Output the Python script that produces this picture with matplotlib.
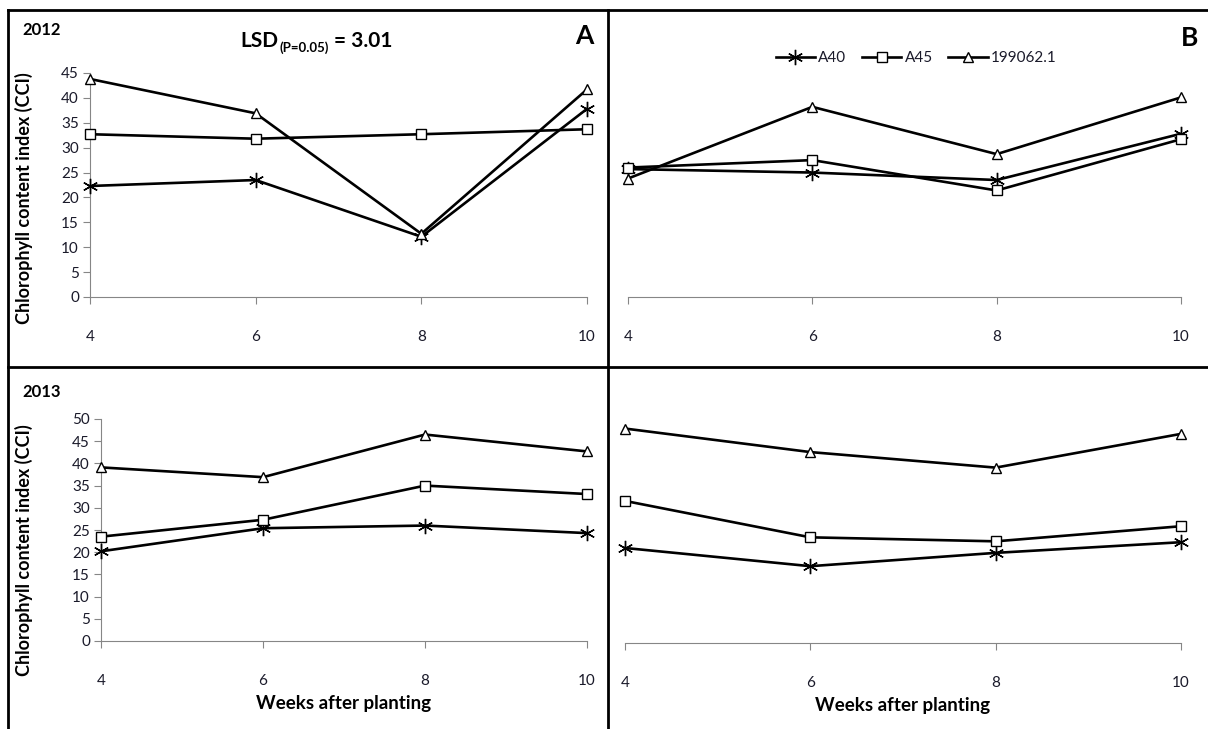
import matplotlib
matplotlib.use('Agg')
import matplotlib.pyplot as plt
from matplotlib.lines import Line2D

plt.rcParams['font.family'] = ['Lato', 'DejaVu Sans']

# Data
weeks = [4, 6, 8, 10]
genotypes = ['A40', 'A45', '199062.1']

a_2012 = [22.3, 23.5, 12.1, 37.8]
a45_2012 = [32.7, 31.8, 32.7, 33.7]
g199_2012 = [43.8, 36.9, 12.7, 41.7]

a_2012b = [25.7, 25.0, 23.5, 32.8]
a45_2012b = [26.0, 27.5, 21.4, 31.7]
g199_2012b = [23.8, 38.2, 28.7, 40.1]

a_2013 = [20.2, 25.4, 26.0, 24.3]
a45_2013 = [23.5, 27.3, 35.0, 33.1]
g199_2013 = [39.1, 36.9, 46.5, 42.7]

a_2013b = [21.4, 17.3, 20.3, 22.7]
a45_2013b = [32.0, 23.8, 22.9, 26.3]
g199_2013b = [48.3, 43.0, 39.5, 47.1]

y_ticks_2012 = list(range(0, 50, 5))
y_ticks_2013 = list(range(0, 55, 5))

W, H = 1208, 729
fig = plt.figure(figsize=(W / 100, H / 100), dpi=100)

def px_axes(x0, x1, ytop, ybot):
    return fig.add_axes([x0 / W, 1 - ybot / H, (x1 - x0) / W, (ybot - ytop) / H])

styles = [
    dict(marker=(6, 2, 0), markersize=11, markeredgewidth=1.0),
    dict(marker='s', markersize=6.5, markerfacecolor='white', markeredgewidth=1.0),
    dict(marker='^', markersize=6.5, markerfacecolor='white', markeredgewidth=1.0),
]
gray = '#868686'
tick_col = '#1a1a2a'

def draw(ax, series, ymax, yticks, show_y):
    for vals, st in zip(series, styles):
        ax.plot(weeks, vals, color='black', lw=1.9, markeredgecolor='black', clip_on=False, zorder=3, **st)
    ax.set_xlim(4, 10)
    ax.set_ylim(0, ymax)
    ax.set_xticks(weeks)
    ax.set_xticklabels([str(w) for w in weeks])
    ax.spines['top'].set_visible(False)
    ax.spines['right'].set_visible(False)
    ax.spines['bottom'].set_color(gray)
    ax.tick_params(axis='x', direction='out', length=5, color=gray, pad=19, labelsize=11,
                   labelcolor=tick_col)
    if show_y:
        ax.spines['left'].set_color(gray)
        ax.set_yticks(yticks)
        ax.tick_params(axis='y', direction='out', length=5, color=gray, pad=3, labelsize=11,
                       labelcolor=tick_col)
    else:
        ax.spines['left'].set_visible(False)
        ax.set_yticks([])
    ax.patch.set_alpha(0)

axA = px_axes(90, 587, 73, 297)
draw(axA, [a_2012, a45_2012, g199_2012], 45, y_ticks_2012, True)
axB = px_axes(628, 1181, 73, 297)
draw(axB, [a_2012b, a45_2012b, g199_2012b], 45, y_ticks_2012, False)
axC = px_axes(101, 587, 419, 641)
draw(axC, [a_2013, a45_2013, g199_2013], 50, y_ticks_2013, True)
axD = px_axes(625, 1181, 421, 643)
draw(axD, [a_2013b, a45_2013b, g199_2013b], 50, y_ticks_2013, False)

for ax in (axA, axC):
    ax.set_ylabel('Chlorophyll content index (CCI)', fontsize=13, fontweight='bold')
axA.yaxis.set_label_coords((33 - 90) / (587 - 90), 0.44)
axC.yaxis.set_label_coords((33 - 101) / (587 - 101), 0.41)

for ax in (axC, axD):
    ax.set_xlabel('Weeks after planting', fontsize=13.5, fontweight='bold', labelpad=5)

# Labels and annotations
fig.text(22 / W, 1 - 30 / H, '2012', fontsize=12, fontweight='bold', va='center')
fig.text(22 / W, 1 - 392 / H, '2013', fontsize=12, fontweight='bold', va='center')
t1 = fig.text(240 / W, 1 - 47 / H, 'LSD', fontsize=15, fontweight='bold', va='baseline')
t2 = fig.text(0, 0, '(P=0.05)', fontsize=9.5, fontweight='bold', va='baseline',
              transform=matplotlib.transforms.offset_copy(
                  t1.get_transform(), fig=fig, x=0, y=0))
fig.canvas.draw()
r = fig.canvas.get_renderer()
bb1 = t1.get_window_extent(r)
t2.set_transform(matplotlib.transforms.IdentityTransform())
t2.set_position((bb1.x1 + 1, (H - 47) - 5))
bb2 = t2.get_window_extent(r)
fig.text(bb2.x1 + 6, H - 47, '= 3.01', fontsize=15, fontweight='bold', va='baseline',
         transform=matplotlib.transforms.IdentityTransform())
fig.text(584 / W, 1 - 36 / H, 'A', fontsize=19, fontweight='bold', ha='center', va='center')
fig.text(1190 / W, 1 - 38 / H, 'B', fontsize=19, fontweight='bold', ha='center', va='center')

handles = [Line2D([0], [0], color='black', lw=1.9, markeredgecolor='black', **st) for st in styles]
fig.legend(handles, genotypes, loc='center', bbox_to_anchor=(916 / W, 1 - 58 / H), ncol=3,
           frameon=False, fontsize=11, handlelength=2.6, columnspacing=1.0, handletextpad=0.2,
           labelcolor=tick_col)

# Table frame lines
lw = 2
fig.add_artist(Line2D([8 / W, 8 / W], [0, 1 - 10 / H], color='black', lw=lw))
fig.add_artist(Line2D([8 / W, 1], [1 - 10 / H, 1 - 10 / H], color='black', lw=lw))
fig.add_artist(Line2D([608 / W, 608 / W], [0, 1 - 10 / H], color='black', lw=lw))
fig.add_artist(Line2D([8 / W, 1], [1 - 367 / H, 1 - 367 / H], color='black', lw=lw))

fig.savefig('out.png', dpi=100)
